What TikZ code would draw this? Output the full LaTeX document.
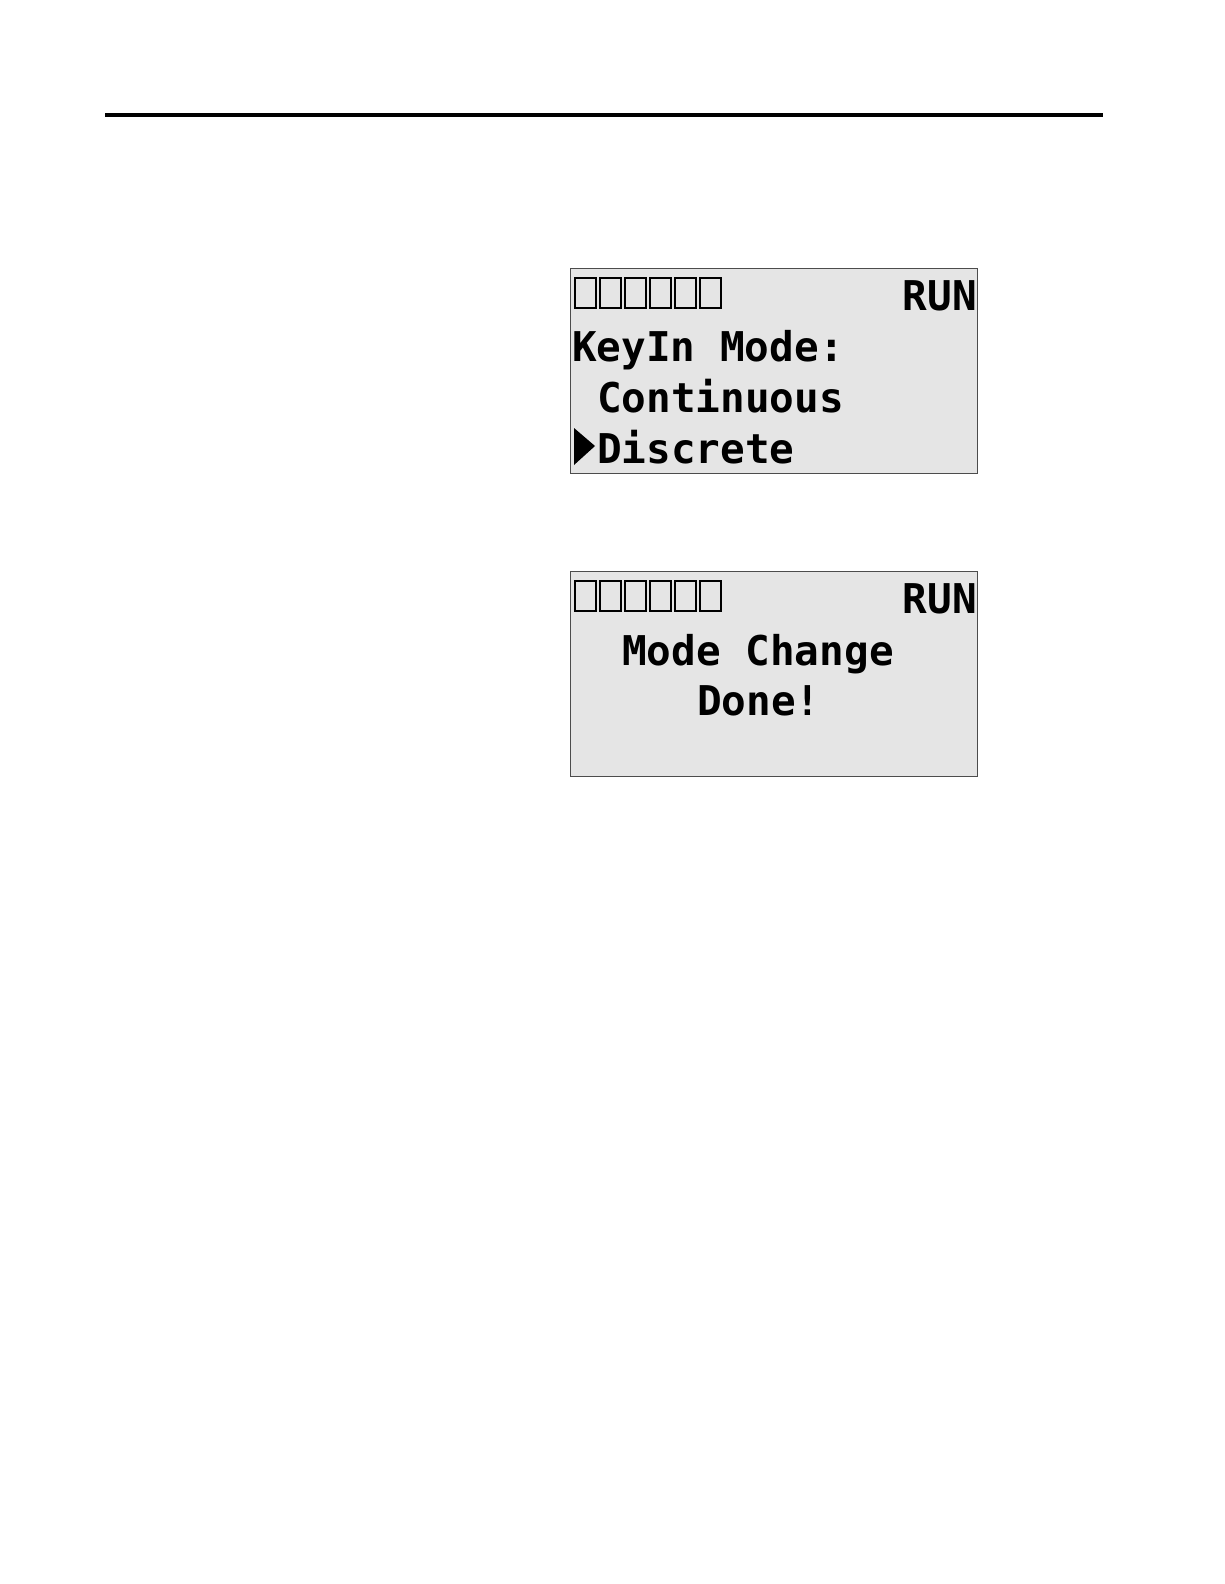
\documentclass[tikz,border=0pt]{standalone}
\usepackage{fontspec}
\newfontfamily\lcd{DejaVu Sans Mono Bold}
\begin{document}
\begin{tikzpicture}[x=1pt,y=-1pt,
  lcdtxt/.style={anchor=base west,inner sep=0pt,font=\lcd\fontsize{41}{41}\selectfont},
  screen/.style={draw=black!70,line width=1.2pt,fill=black!10},
  sq/.style={draw=black,line width=2.5pt}]
\useasboundingbox (0,0) rectangle (1224,1584);
\fill[white] (0,0) rectangle (1224,1584);
\draw[line width=4pt] (105,115) -- (1103,115);
% screen 1
\node[screen,minimum width=407,minimum height=205,anchor=north west,inner sep=0] (s1) at (570,268) {};
\foreach \i in {0,...,5} \draw[sq] (575+25*\i,278) rectangle (596+25*\i,308);
\node[lcdtxt,anchor=base east] (r1) at (977,310) {RUN};
\node[lcdtxt] (t1) at (572,361) {KeyIn Mode:};
\node[lcdtxt] (t2) at (597,412) {Continuous};
\fill (574,428) -- (595,446) -- (574,465) -- cycle;
\node[lcdtxt] (t3) at (597,463) {Discrete};
% screen 2
\node[screen,minimum width=407,minimum height=205,anchor=north west,inner sep=0] (s2) at (570,571) {};
\foreach \i in {0,...,5} \draw[sq] (575+25*\i,581) rectangle (596+25*\i,611);
\node[lcdtxt,anchor=base east] (r2) at (977,613) {RUN};
\node[lcdtxt] (t4) at (622,665) {Mode Change};
\node[lcdtxt] (t5) at (697,715) {Done!};
\end{tikzpicture}
\end{document}
